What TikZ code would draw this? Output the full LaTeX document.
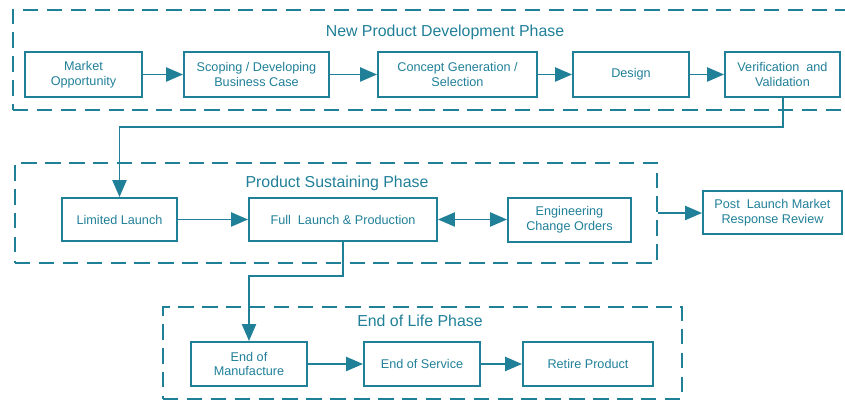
\documentclass[tikz,border=0pt]{standalone}
\usepackage{fontspec}
\setmainfont{Liberation Sans}
\usetikzlibrary{arrows.meta}
\definecolor{phaseteal}{RGB}{32,128,152}

\tikzset{
	stagebox/.style={draw=phaseteal, line width=1.4pt, text=phaseteal, font=\fontsize{9}{10.6}\selectfont, align=center, inner sep=0pt},
	phasebox/.style={draw=phaseteal, line width=1.4pt, dash pattern=on 11pt off 6pt, inner sep=0pt},
	phasetitle/.style={text=phaseteal, font=\fontsize{11.3}{13}\selectfont},
	flow/.style={draw=phaseteal, line width=1.35pt, -{Triangle[length=12pt, width=10pt]}},
	twoflow/.style={draw=phaseteal, line width=1.35pt, {Triangle[length=12pt, width=10pt]}-{Triangle[length=12pt, width=10pt]}}
}

\begin{document}
\begin{tikzpicture}
	\useasboundingbox (0, 0) rectangle (21.125, 10.025);
	% Phase frames and titles:
	\node[phasebox, minimum width=20.875cm, minimum height=2.5cm](NPD) at (10.7625, 8.525){};
	\node[phasebox, minimum width=16.05cm, minimum height=2.5cm](PSP) at (8.4, 4.7){};
	\node[phasebox, minimum width=12.975cm, minimum height=2.3cm](EOL) at (10.5625, 1.2){};
	\node[phasetitle](T1) at (11.125, 9.225){New Product Development Phase};
	\node[phasetitle](T2) at (8.425, 5.45){Product Sustaining Phase};
	\node[phasetitle](T3) at (10.5, 2.0){End of Life Phase};
	% Stages:
	\node[stagebox, minimum width=2.925cm, minimum height=1.125cm](S1) at (2.0875, 8.1625){Market\\Opportunity};
	\node[stagebox, minimum width=3.625cm, minimum height=1.125cm](S2) at (6.4125, 8.1625){Scoping / Developing\\Business Case};
	\node[stagebox, minimum width=3.975cm, minimum height=1.125cm](S3) at (11.4375, 8.1625){Concept Generation /\\Selection};
	\node[stagebox, minimum width=2.9cm, minimum height=1.125cm](S4) at (15.775, 8.1625){Design};
	\node[stagebox, minimum width=2.875cm, minimum height=1.125cm](S5) at (19.5625, 8.1625){Verification~ and\\Validation};
	\node[stagebox, minimum width=2.875cm, minimum height=1.075cm](L1) at (2.9875, 4.5375){Limited Launch};
	\node[stagebox, minimum width=4.7cm, minimum height=1.075cm](L2) at (8.575, 4.5375){Full~ Launch \& Production};
	\node[stagebox, minimum width=3.075cm, minimum height=1.1cm](L3) at (14.2375, 4.525){Engineering\\Change Orders};
	\node[stagebox, minimum width=3.475cm, minimum height=1.075cm](L4) at (19.3125, 4.7125){Post~ Launch Market\\Response Review};
	\node[stagebox, minimum width=2.9cm, minimum height=1.1cm](E1) at (6.225, 0.925){End of\\Manufacture};
	\node[stagebox, minimum width=2.9cm, minimum height=1.1cm](E2) at (10.55, 0.925){End of Service};
	\node[stagebox, minimum width=3.25cm, minimum height=1.1cm](E3) at (14.7, 0.925){Retire Product};
	% Connectors:
	\coordinate (B1) at (19.575, 6.85);
	\coordinate (B2) at (8.575, 3.125);
	\draw[flow] (S1) -- (S2);
	\draw[flow] (S2) -- (S3);
	\draw[flow] (S3) -- (S4);
	\draw[flow] (S4) -- (S5);
	\draw[flow] (S5.south -| B1) -- (B1) -| (L1.north);
	\draw[flow] (L1) -- (L2);
	\draw[twoflow] (L2.east |- 0, 4.5375) -- (L3.west |- 0, 4.5375);
	\draw[flow] (PSP.east) -- (L4.west |- PSP.east);
	\draw[flow] (L2.south) -- (B2) -| (E1.north);
	\draw[flow] (E1) -- (E2);
	\draw[flow] (E2) -- (E3);
\end{tikzpicture}
\end{document}
